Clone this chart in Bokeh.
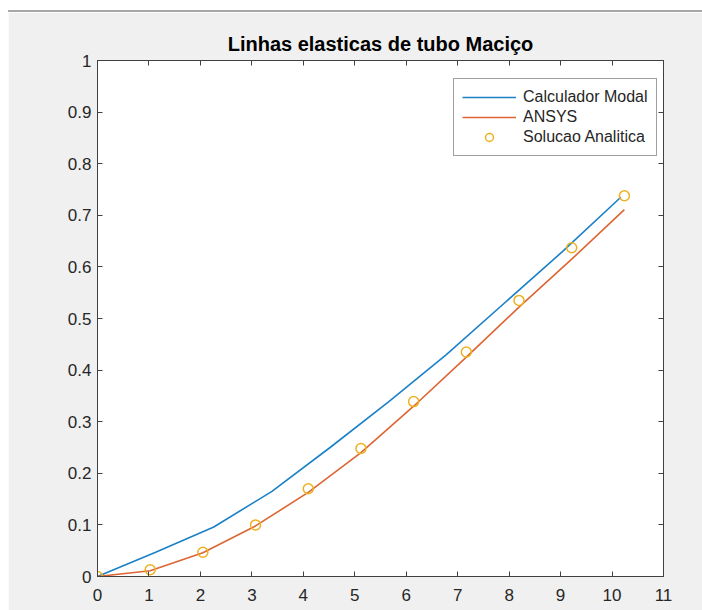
from bokeh.plotting import figure
from bokeh.models import (Range1d, LinearAxis, FixedTicker, NumeralTickFormatter,
                          CustomJSTickFormatter, Legend, LegendItem, Spacer)
from bokeh.layouts import row, column
from bokeh.embed import file_html
from bokeh.resources import INLINE

# ---- data ----
title_text = "Linhas elasticas de tubo Maciço"
x_ticks = [0, 1, 2, 3, 4, 5, 6, 7, 8, 9, 10, 11]
y_ticks = [0, 0.1, 0.2, 0.3, 0.4, 0.5, 0.6, 0.7, 0.8, 0.9, 1.0]

x_modal = [0, 1.13, 2.26, 3.39, 4.52, 5.65, 6.78, 7.91, 9.04, 10.17]
y_modal = [0, 0.047, 0.096, 0.165, 0.25, 0.338, 0.43, 0.53, 0.63, 0.735]

x_ansys = [0, 1.024, 2.048, 3.072, 4.096, 5.12, 6.144, 7.168, 8.192, 9.216, 10.24]
y_ansys = [0, 0.011, 0.046, 0.098, 0.163, 0.24, 0.33, 0.425, 0.522, 0.615, 0.711]

x_anal = [0, 1.024, 2.048, 3.072, 4.096, 5.12, 6.144, 7.168, 8.192, 9.216, 10.24]
y_anal = [0, 0.013, 0.047, 0.10, 0.17, 0.248, 0.339, 0.435, 0.535, 0.637, 0.738]

labels = ["Calculador Modal", "ANSYS", "Solucao Analitica"]
colors = ["#1a80c8", "#dd6533", "#EDB120"]

FONT = "Liberation Sans"
AX = "#404040"
TXT = "#262626"

p = figure(width=694, height=598, output_backend="svg", toolbar_location=None,
           x_range=Range1d(0, 11), y_range=Range1d(0, 1),
           x_axis_location=None, y_axis_location=None,
           min_border_left=89, min_border_right=39, min_border_top=48, min_border_bottom=34,
           background_fill_color="white", border_fill_color="#f0f0f0",
           outline_line_color=AX, outline_line_width=1)

p.title.text = title_text
p.title.align = "center"
p.title.text_font = FONT
p.title.text_font_size = "20px"
p.title.text_font_style = "bold"
p.title.text_color = "#000000"
p.title.standoff = 12

p.xgrid.visible = False
p.ygrid.visible = False

empty = CustomJSTickFormatter(code="return ''")


def style_axis(ax, with_labels):
    ax.axis_line_color = AX
    ax.axis_line_width = 1
    ax.major_tick_in = 5
    ax.major_tick_out = 0
    ax.minor_tick_in = 0
    ax.minor_tick_out = 0
    ax.major_tick_line_color = AX
    ax.major_label_text_font = FONT
    ax.major_label_text_font_size = "17px"
    ax.major_label_text_color = TXT
    if not with_labels:
        ax.formatter = empty
        ax.major_label_standoff = 0


xb = LinearAxis(ticker=FixedTicker(ticks=x_ticks), formatter=NumeralTickFormatter(format="0.[0]"))
style_axis(xb, True)
xb.major_label_standoff = 12
p.add_layout(xb, "below")

yl = LinearAxis(ticker=FixedTicker(ticks=y_ticks), formatter=NumeralTickFormatter(format="0.[0]"))
style_axis(yl, True)
yl.major_label_standoff = 6
p.add_layout(yl, "left")

xt = LinearAxis(ticker=FixedTicker(ticks=x_ticks))
style_axis(xt, False)
p.add_layout(xt, "above")

yr = LinearAxis(ticker=FixedTicker(ticks=y_ticks))
style_axis(yr, False)
p.add_layout(yr, "right")

r1 = p.line(x_modal, y_modal, line_color=colors[0], line_width=1.6)
r2 = p.line(x_ansys, y_ansys, line_color=colors[1], line_width=1.6)
r3 = p.scatter(x_anal, y_anal, marker="circle", size=10, fill_color=None,
               line_color=colors[2], line_width=1.5)

legend = Legend(items=[LegendItem(label=labels[0], renderers=[r1]),
                       LegendItem(label=labels[1], renderers=[r2]),
                       LegendItem(label=labels[2], renderers=[r3])],
                location=(356, 420), orientation="vertical",
                label_text_font=FONT, label_text_font_size="16px", label_text_color=TXT,
                glyph_width=54, glyph_height=20, label_height=20, label_standoff=7,
                spacing=0, padding=8, margin=0,
                border_line_color=AX, border_line_width=1,
                background_fill_color="white", background_fill_alpha=1.0)
p.add_layout(legend, "center")

top_gap = Spacer(width=694, height=10)
top_rule = Spacer(width=694, height=2, styles={"background-color": "#a8a8a8"})
left_gap = Spacer(width=8, height=610)
layout = row(left_gap, column(top_gap, top_rule, p, spacing=0), spacing=0)

open("out.html", "w").write(file_html(layout, INLINE))
